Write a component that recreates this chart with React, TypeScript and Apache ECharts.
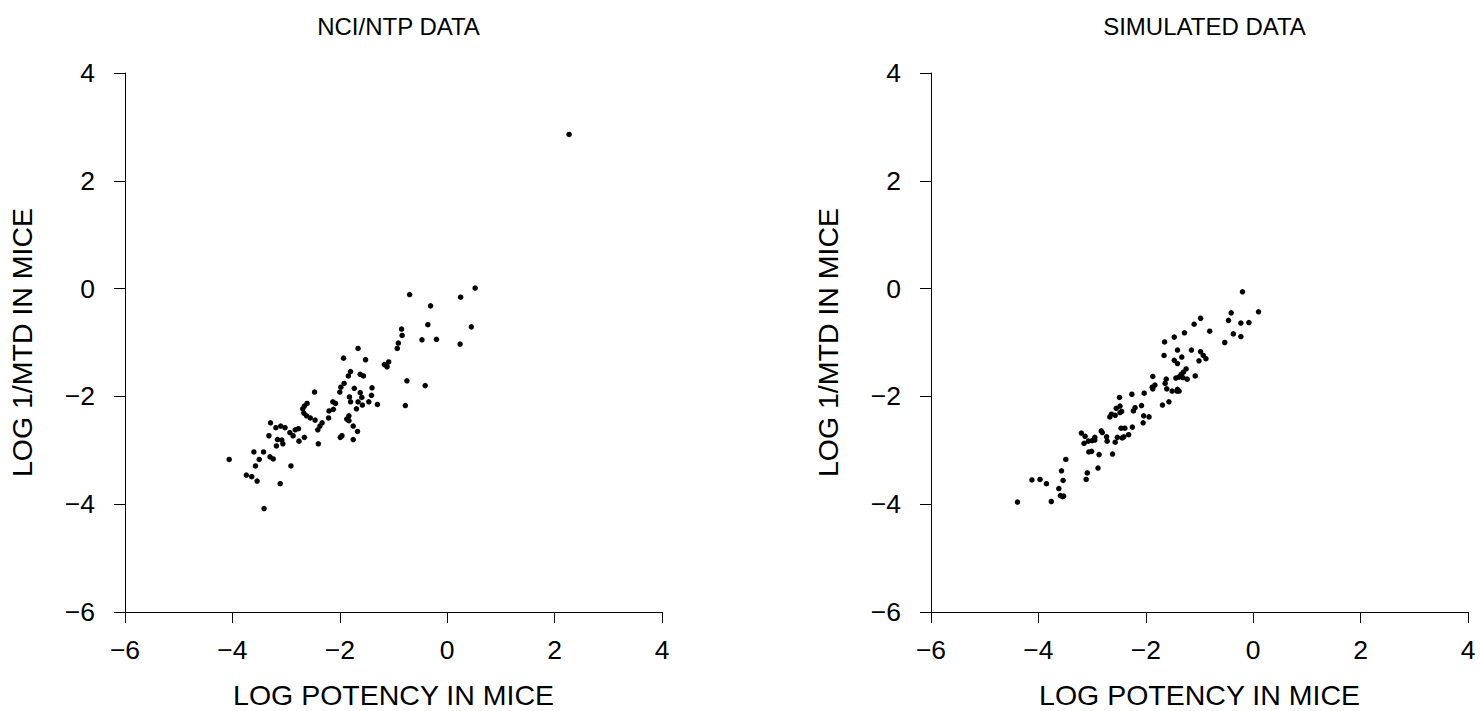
import React, { useEffect, useRef } from "react";
import * as echarts from "echarts";

const panelTitles = ["NCI/NTP DATA", "SIMULATED DATA"];
const xAxisName = "LOG POTENCY IN MICE";
const yAxisName = "LOG 1/MTD IN MICE";
const axisMin = -6;
const axisMax = 4;
const axisStep = 2;

const nciPoints: [number, number][] = [
  [-1.66, -1.11], [-1.93, -1.29], [-1.52, -1.32], [-1.8, -1.54], [-1.84, -1.62], [-1.62, -1.59],
  [-1.56, -1.62], [-1.92, -1.76], [-1.98, -1.83], [-2.0, -1.92], [-1.73, -1.85], [-2.47, -1.92],
  [-1.62, -1.93], [-1.59, -2.02], [-1.82, -2.01], [-1.8, -2.1], [-1.66, -2.1], [-1.58, -2.16],
  [-2.13, -2.1], [-2.08, -2.13], [-2.61, -2.13], [-2.66, -2.18], [-2.69, -2.23], [-2.12, -2.24],
  [-2.2, -2.27], [-1.69, -2.23], [-2.67, -2.31], [-2.62, -2.36], [-2.55, -2.4], [-2.46, -2.44],
  [-2.21, -2.4], [-1.87, -2.42], [-1.83, -2.45], [-1.83, -2.36], [-2.33, -2.49], [-2.37, -2.55],
  [-3.29, -2.49], [-3.19, -2.58], [-3.1, -2.55], [-3.02, -2.58], [-2.77, -2.6], [-2.83, -2.62],
  [-1.75, -2.55], [-2.41, -2.62], [-2.93, -2.67], [-2.87, -2.73], [-1.67, -2.65], [-3.32, -2.73],
  [-2.66, -2.76], [-2.76, -2.83], [-3.16, -2.8], [-3.08, -2.81], [-3.06, -2.88], [-3.18, -2.92],
  [-1.96, -2.73], [-1.99, -2.76], [-1.75, -2.8], [-2.4, -2.88], [-3.6, -3.03], [-3.42, -3.03],
  [-3.3, -3.12], [-3.24, -3.16], [-3.5, -3.17], [-4.06, -3.17], [-3.57, -3.29], [-2.91, -3.29],
  [-3.74, -3.46], [-3.64, -3.49], [-3.54, -3.57], [-3.11, -3.62], [-3.41, -4.08],
  [0.52, 0.01], [0.25, -0.16], [-0.7, -0.11], [-0.31, -0.32], [-0.36, -0.67], [0.45, -0.71],
  [-0.85, -0.75], [-0.84, -0.87], [-0.47, -0.95], [-0.2, -0.94], [0.24, -1.03], [-0.91, -1.01],
  [-0.93, -1.11], [-1.09, -1.36], [-1.17, -1.41], [-1.12, -1.45], [-0.75, -1.71], [-0.41, -1.8],
  [-0.78, -2.17], [-1.4, -1.84], [-1.41, -1.98], [-1.3, -2.15], [-1.46, -2.1], [2.27, 2.86],
];

const simPoints: [number, number][] = [
  [-4.39, -3.96], [-3.76, -3.95], [-3.59, -3.84], [-3.55, -3.86], [-3.53, -3.85], [-3.62, -3.71],
  [-3.54, -3.56], [-4.12, -3.55], [-3.97, -3.54], [-3.85, -3.62], [-3.57, -3.38], [-3.49, -3.17],
  [-3.11, -3.54], [-3.09, -3.42], [-2.89, -3.33], [-3.06, -3.03], [-3.01, -3.02], [-2.87, -3.08],
  [-2.62, -3.07], [-3.2, -2.68], [-3.13, -2.74], [-3.15, -2.87], [-3.07, -2.83], [-3.0, -2.82],
  [-2.95, -2.76], [-2.95, -2.81], [-2.83, -2.64], [-2.81, -2.67], [-2.73, -2.75], [-2.72, -2.83],
  [-2.57, -2.85], [-2.53, -2.76], [-2.44, -2.77], [-2.41, -2.75], [-2.32, -2.71], [-2.46, -2.59],
  [-2.39, -2.59], [-2.25, -2.57], [-2.05, -2.49], [-2.67, -2.38], [-2.64, -2.33], [-2.57, -2.35],
  [-2.48, -2.3], [-2.45, -2.28], [-2.55, -2.22], [-2.48, -2.18], [-2.23, -2.27], [-2.2, -2.21],
  [-2.08, -2.17], [-2.04, -2.36], [-1.94, -2.38], [-2.49, -2.02], [-2.26, -1.96], [-2.03, -1.94],
  [-0.2, -0.06], [0.1, -0.43], [-0.41, -0.45], [-0.46, -0.59], [-0.23, -0.64], [-0.08, -0.63],
  [-0.37, -0.84], [-0.23, -0.89], [-0.53, -1.0], [-0.98, -0.55], [-1.1, -0.66], [-0.81, -0.79],
  [-1.28, -0.82], [-1.47, -0.9], [-1.65, -0.99], [-1.41, -1.14], [-1.15, -1.14], [-0.98, -1.17],
  [-1.66, -1.24], [-1.47, -1.33], [-1.41, -1.39], [-1.33, -1.27], [-0.93, -1.24], [-0.88, -1.3],
  [-1.01, -1.34], [-1.25, -1.49], [-1.3, -1.55], [-1.34, -1.59], [-1.38, -1.64], [-1.31, -1.65],
  [-1.44, -1.66], [-1.23, -1.68], [-1.08, -1.62], [-1.87, -1.63], [-1.62, -1.68], [-1.64, -1.76],
  [-1.83, -1.79], [-1.88, -1.83], [-1.87, -1.86], [-1.61, -1.86], [-1.51, -1.9], [-1.41, -1.87],
  [-1.38, -1.9], [-1.42, -1.9], [-1.57, -2.1], [-1.69, -2.16],
];

const FONT = "'Liberation Sans', Arial, Helvetica, sans-serif";

export default function App() {
  const ref = useRef<HTMLDivElement>(null);
  useEffect(() => {
    if (!ref.current) return;
    const chart = echarts.init(ref.current, undefined, { renderer: "svg" });
    const grids = [
      { left: 125, top: 73, width: 537, height: 539, containLabel: false, outerBoundsMode: "none" },
      { left: 931, top: 73, width: 537, height: 539, containLabel: false, outerBoundsMode: "none" },
    ];
    const fmt = (v: number) => String(v).replace("-", "\u2212");
    const axisCommon = {
      min: axisMin,
      max: axisMax,
      interval: axisStep,
      splitLine: { show: false },
      axisLine: { show: true, onZero: false, lineStyle: { color: "#000", width: 1 } },
      axisTick: { show: true, inside: false, length: 11, lineStyle: { color: "#000", width: 1 } },
      nameLocation: "middle" as const,
      nameTextStyle: { color: "#000", fontSize: 28.5, lineHeight: 28, fontFamily: FONT },
    };
    const option: any = {
      animation: false,
      backgroundColor: "#fff",
      title: panelTitles.map((t, i) => ({
        text: t,
        left: grids[i].left + grids[i].width / 2,
        top: 9,
        textAlign: "center",
        textStyle: { color: "#000", fontSize: 24, fontWeight: "normal", fontFamily: FONT },
      })),
      grid: grids,
      xAxis: grids.map((_, i) => ({
        ...axisCommon,
        type: "value",
        gridIndex: i,
        name: xAxisName,
        nameGap: 69,
        axisLabel: { color: "#000", fontSize: 26.5, fontFamily: FONT, margin: 24, formatter: fmt },
      })),
      yAxis: grids.map((_, i) => ({
        ...axisCommon,
        type: "value",
        gridIndex: i,
        name: yAxisName,
        nameGap: 89,
        axisLabel: { color: "#000", fontSize: 26.5, fontFamily: FONT, margin: 30, formatter: fmt },
      })),
      series: [nciPoints, simPoints].map((d, i) => ({
        type: "scatter",
        xAxisIndex: i,
        yAxisIndex: i,
        data: d,
        symbol: "circle",
        symbolSize: 5.5,
        itemStyle: { color: "#000", opacity: 1 },
        emphasis: { disabled: true },
      })),
    };
    chart.setOption(option);
    return () => chart.dispose();
  }, []);
  return (
    <div
      ref={ref}
      style={{ position: "fixed", left: 0, top: 0, width: 1480, height: 711, background: "#fff" }}
    />
  );
}
